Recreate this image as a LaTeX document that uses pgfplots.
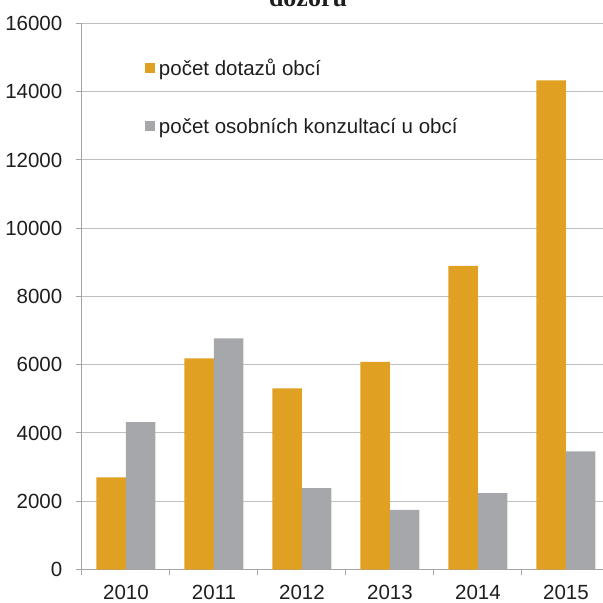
\documentclass[border=0pt]{standalone}
\usepackage{pgfplots}
\pgfplotsset{compat=1.18}
\usepackage{fontspec}
\setmainfont{Liberation Sans}
\newfontfamily\titlefont{Liberation Serif}
\definecolor{barorange}{RGB}{224,160,34}
\definecolor{bargray}{RGB}{166,167,171}
\definecolor{gridgray}{RGB}{192,192,192}
\definecolor{axisgray}{RGB}{165,165,165}
\definecolor{txt}{RGB}{30,30,30}
\begin{document}
\begin{tikzpicture}
\clip (-82bp,-33.5bp) rectangle (521bp,569.5bp);
\begin{axis}[
  width=528bp, height=546bp, scale only axis,
  xmin=-0.5, xmax=5.5, ymin=0, ymax=16000,
  ybar=0pt, bar width=29.5bp,
  axis x line*=bottom, axis y line*=left,
  axis line style={axisgray, line width=1bp, -},
  ytick={0,2000,...,16000},
  ymajorgrids, grid style={gridgray, line width=1bp},
  xtick={0,1,2,3,4,5},
  xticklabels={2010,2011,2012,2013,2014,2015},
  minor xtick={-0.5,0.5,1.5,2.5,3.5,4.5,5.5},
  major x tick style={draw=none},
  tick align=outside,
  major tick length=5.5bp, minor tick length=5.5bp,
  tick style={axisgray, line width=1bp},
  scaled y ticks=false,
  /pgf/number format/1000 sep={},
  /pgf/number format/assume math mode=true,
  tick label style={font=\fontsize{20.5bp}{24bp}\selectfont, text=txt},
  yticklabel style={anchor=east, inner sep=0pt, xshift=-14bp},
  xticklabel style={anchor=base, inner sep=0pt, yshift=-24bp},
  legend image code/.code={\fill[#1] (0bp,2.25bp) rectangle (10.5bp,12.75bp);},
  legend style={at={(0.1193,0.932)}, anchor=north west, draw=none, fill=none,
    inner sep=0pt, outer sep=0pt, row sep=38bp, column sep=3.5bp,
    cells={anchor=base west},
    nodes={inner sep=0pt, text height=15bp, text depth=5bp, text=txt},
    font=\fontsize{20.5bp}{24bp}\selectfont},
]
\addplot[fill=barorange, draw=none] coordinates {(0,2700) (1,6190) (2,5310) (3,6085) (4,8900) (5,14330)};
\addplot[fill=bargray, draw=none] coordinates {(0,4315) (1,6770) (2,2385) (3,1750) (4,2240) (5,3460)};
\legend{počet dotazů obcí, počet osobních konzultací u obcí}
\end{axis}
\node[anchor=base, inner sep=0pt, text=txt, font=\titlefont\bfseries\fontsize{26bp}{30bp}\selectfont] at (226bp,562.5bp) {dozoru};
\end{tikzpicture}
\end{document}
